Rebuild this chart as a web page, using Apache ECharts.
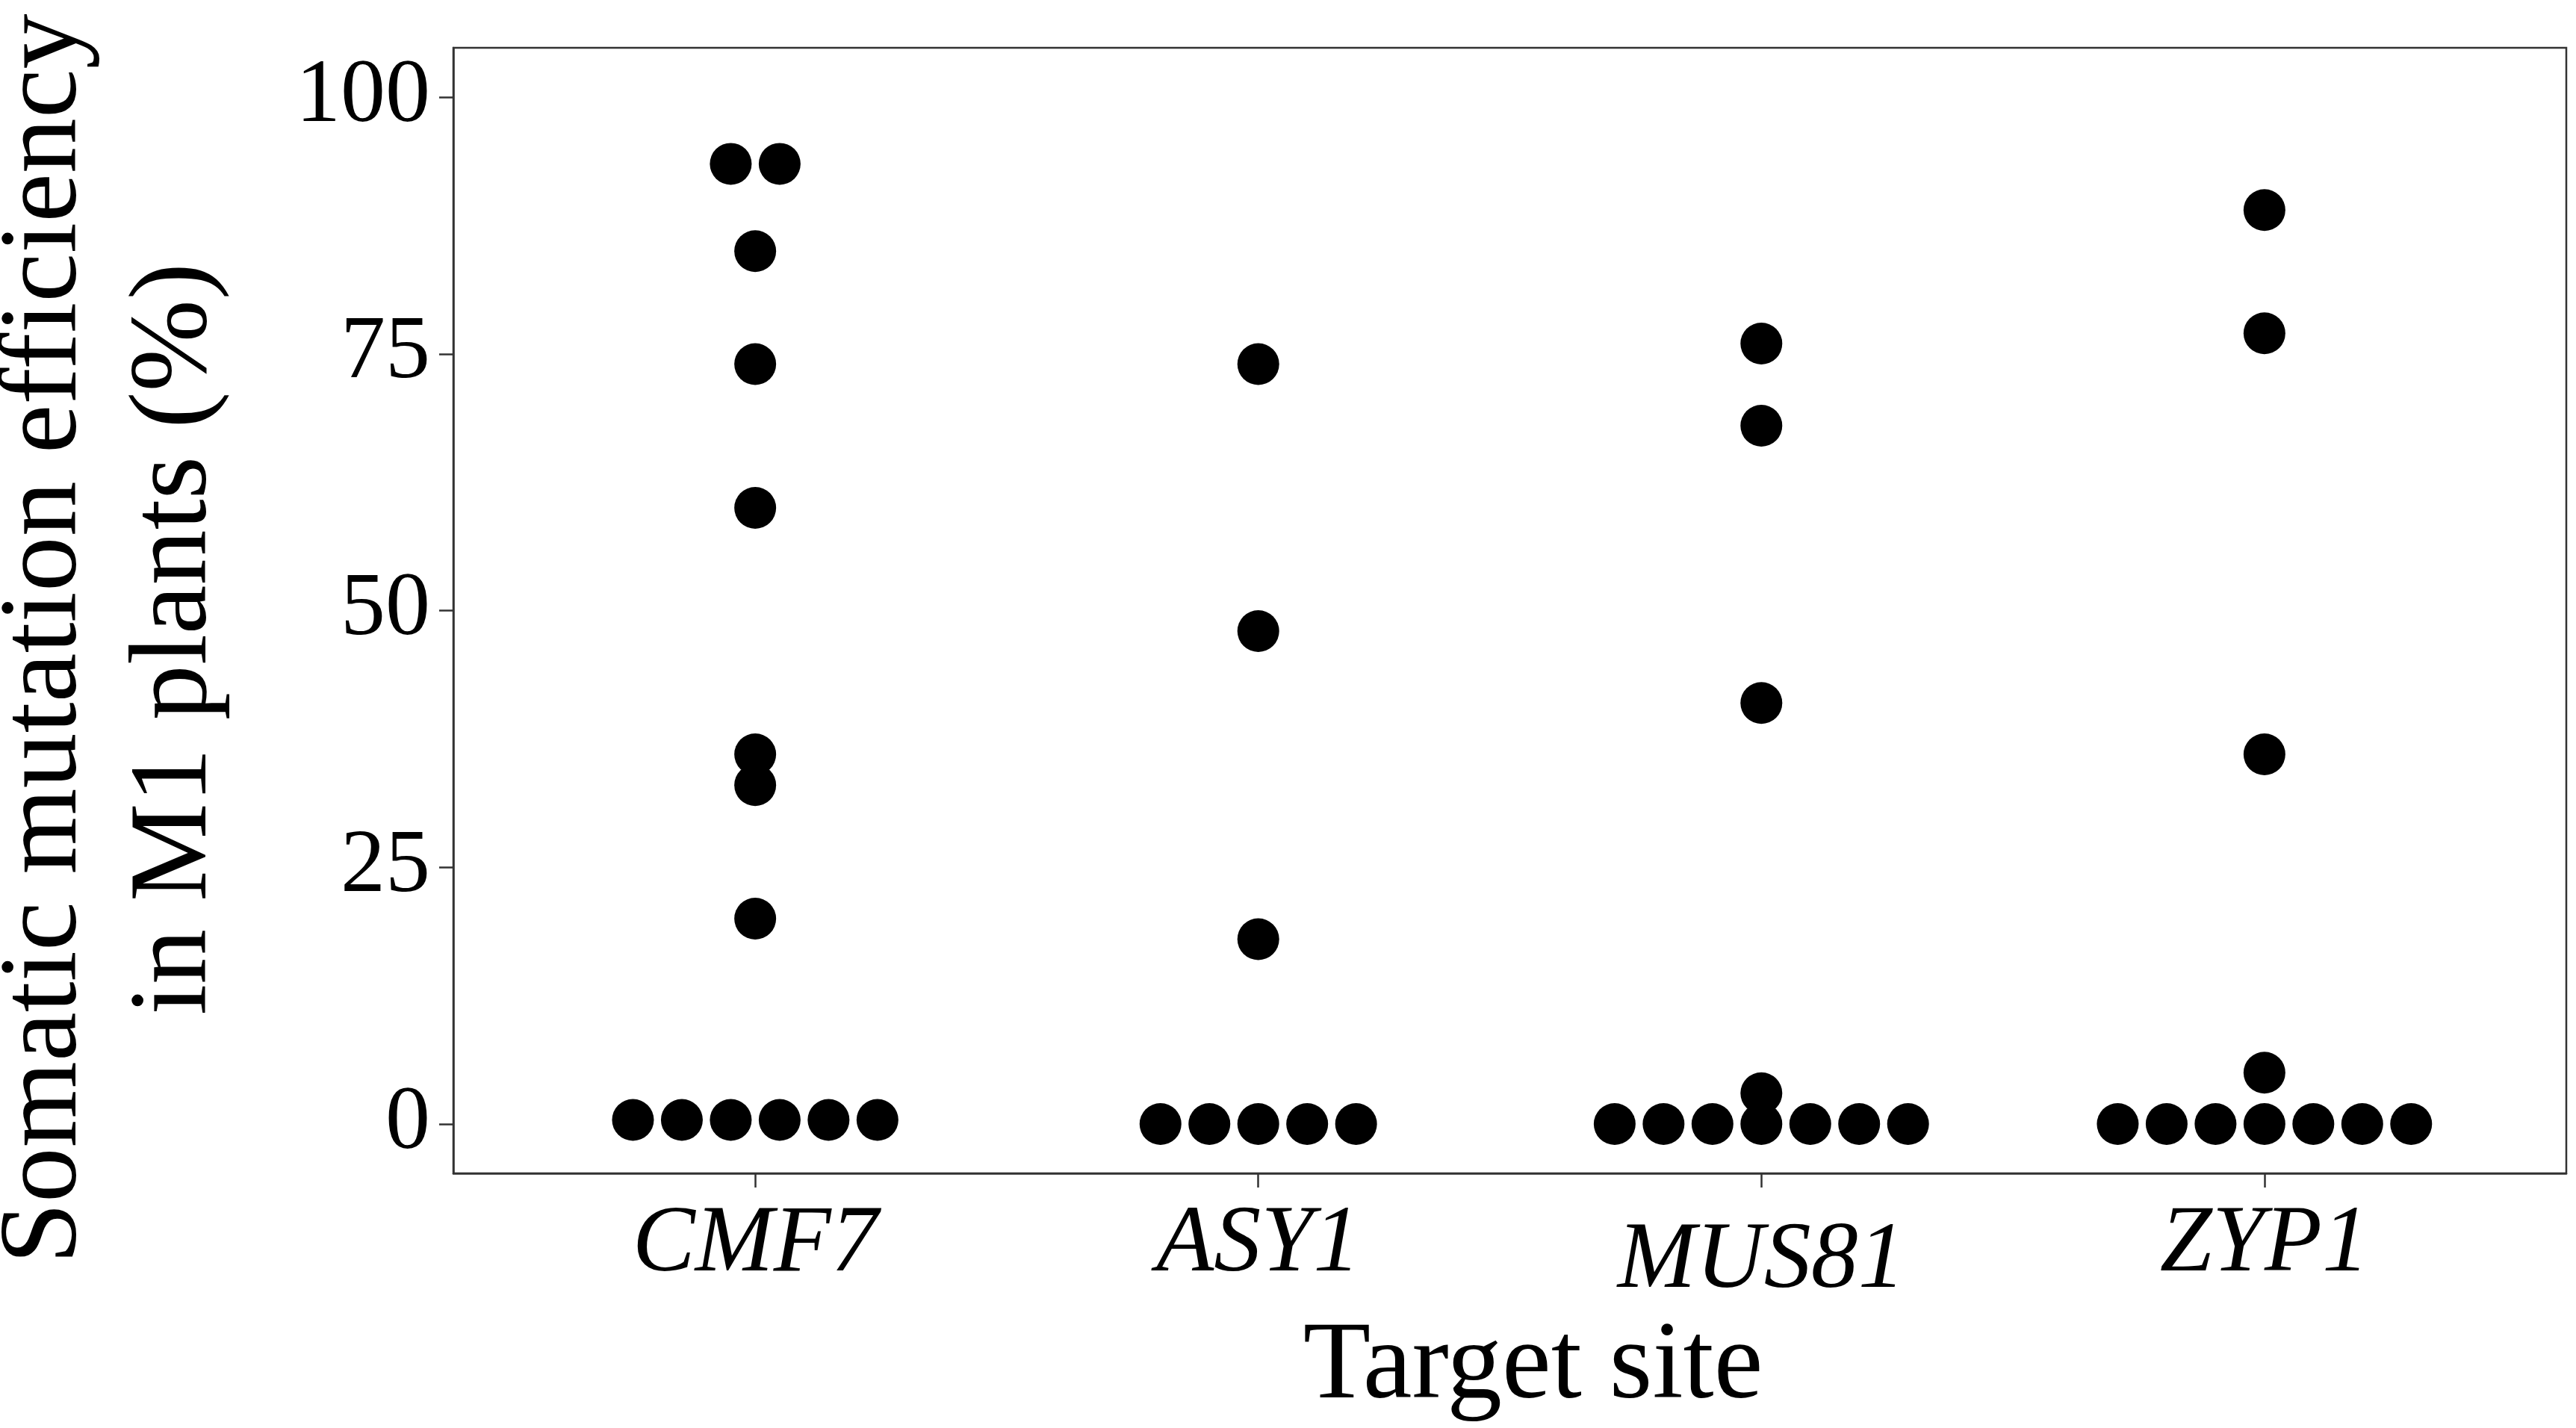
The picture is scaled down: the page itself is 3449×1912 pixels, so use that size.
<!DOCTYPE html>
<html>
<head>
<meta charset="utf-8">
<script src="https://cdn.jsdelivr.net/npm/echarts@6/dist/echarts.min.js"></script>
<style>html,body{margin:0;padding:0;background:#fff;}#c{width:3449px;height:1912px;}</style>
</head>
<body>
<div id="c"></div>
<script>
const categories = ['CMF7', 'ASY1', 'MUS81', 'ZYP1'];
const cmf7 = [93.5, 93.5, 85, 74, 60, 36, 33, 20, 0.4, 0.4, 0.4, 0.4, 0.4, 0.4];
const asy1 = [74, 48, 18, 0, 0, 0, 0, 0];
const mus81 = [76, 68, 41, 3, 0, 0, 0, 0, 0, 0, 0];
const zyp1 = [89, 77, 36, 5, 0, 0, 0, 0, 0, 0, 0];
const yTicks = [0, 25, 50, 75, 100];
const xTitle = 'Target site';
const yTitle = 'Somatic mutation efficiency\nin M1 plants (%)';

const seriesValues = [cmf7, asy1, mus81, zyp1];
const step = 0.0972; // horizontal stacking step for equal values (dotplot)

function stackDots(vals, ci) {
  const counts = {};
  vals.forEach(v => { counts[v] = (counts[v] || 0) + 1; });
  const seen = {};
  return vals.map(v => {
    const i = seen[v] = (seen[v] === undefined ? 0 : seen[v] + 1);
    const n = counts[v];
    return [ci + 1 + (i - (n - 1) / 2) * step, v];
  });
}

const FONT = 'Liberation Serif';
const chart = echarts.init(document.getElementById('c'));
chart.setOption({
  backgroundColor: '#ffffff',
  animation: false,
  grid: { left: 607, right: 13, top: 64, bottom: 341, containLabel: false, outerBoundsMode: 'none', show: true, borderColor: '#333333', borderWidth: 2.5, backgroundColor: 'transparent' },
  xAxis: {
    type: 'value', min: 0.4, max: 4.6,
    name: xTitle, nameLocation: 'middle', nameGap: 169,
    nameTextStyle: { fontFamily: FONT, fontSize: 148, color: '#000', padding: [0, 0, 0, 62] },
    axisLine: { show: true, onZero: false, lineStyle: { color: '#333333', width: 2.5 } },
    axisTick: { show: true, customValues: [1, 2, 3, 4], length: 19, lineStyle: { color: '#333333', width: 2.5 } },
    axisLabel: {
      customValues: [1, 2, 3, 4], margin: 34,
      formatter: v => {
        const name = categories[Math.round(v) - 1];
        return name === 'MUS81' ? '{low|' + name + '}' : '{n|' + name + '}';
      },
      rich: {
        n: { fontFamily: FONT, fontStyle: 'italic', fontSize: 126, color: '#000' },
        low: { fontFamily: FONT, fontStyle: 'italic', fontSize: 126, color: '#000', padding: [22, 0, 0, 0] }
      }
    },
    splitLine: { show: false }
  },
  yAxis: {
    type: 'value', min: -4.8, max: 104.8,
    name: yTitle, nameLocation: 'middle', nameGap: 284,
    nameTextStyle: { fontFamily: FONT, fontSize: 148, lineHeight: 174, color: '#000', align: 'center', padding: [0, 76, 0, 0] },
    axisLine: { show: true, onZero: false, lineStyle: { color: '#333333', width: 2.5 } },
    axisTick: { show: true, customValues: yTicks, length: 19, lineStyle: { color: '#333333', width: 2.5 } },
    axisLabel: { customValues: yTicks, margin: 31, fontFamily: FONT, fontSize: 120, color: '#000' },
    splitLine: { show: false }
  },
  series: seriesValues.map((vals, ci) => ({
    type: 'scatter',
    name: categories[ci],
    symbol: 'circle',
    symbolSize: 56,
    itemStyle: { color: '#000000', opacity: 1 },
    data: stackDots(vals, ci)
  }))
});
</script>
</body>
</html>
